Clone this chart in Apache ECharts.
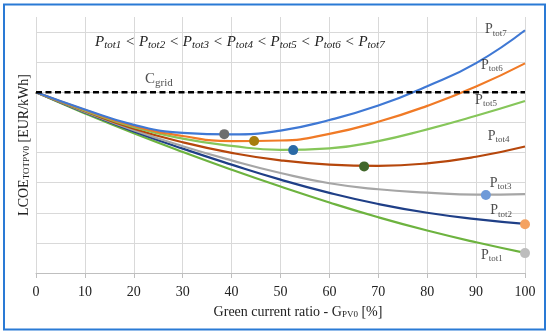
<!DOCTYPE html>
<html><head><meta charset="utf-8">
<script src="https://cdn.jsdelivr.net/npm/echarts@6/dist/echarts.min.js"></script>
<style>html,body{margin:0;padding:0;background:#fff}#c{width:550px;height:334px}</style>
</head><body><div id="c"></div>
<script>
// Green current ratio G_PV0 [%]
const xValues = [0, 10, 20, 30, 40, 50, 60, 70, 80, 90, 100];
// LCOE curves (relative units, gridline spacing = 1)
const ptot1 = [6, 5.30, 4.64, 4.02, 3.43, 2.87, 2.34, 1.85, 1.41, 1.02, 0.67];
const ptot2 = [6, 5.33, 4.70, 4.13, 3.60, 3.10, 2.66, 2.29, 2.00, 1.79, 1.63];
const ptot3 = [6, 5.35, 4.74, 4.21, 3.74, 3.32, 2.98, 2.78, 2.67, 2.60, 2.62];
const ptot4 = [6, 5.37, 4.79, 4.34, 3.99, 3.74, 3.60, 3.56, 3.64, 3.86, 4.20];
const ptot5 = [6, 5.39, 4.84, 4.46, 4.22, 4.09, 4.14, 4.38, 4.77, 5.22, 5.71];
const ptot6 = [6, 5.41, 4.88, 4.55, 4.38, 4.40, 4.62, 5.02, 5.55, 6.19, 6.96];
const ptot7 = [6, 5.43, 4.92, 4.65, 4.60, 4.73, 5.08, 5.56, 6.20, 6.97, 8.06];
const seriesData = [ptot1, ptot2, ptot3, ptot4, ptot5, ptot6, ptot7];
const seriesLabels = ['tot1', 'tot2', 'tot3', 'tot4', 'tot5', 'tot6', 'tot7'];
const lineColors = ['#6db33f', '#1f3f87', '#a6a6a6', '#b6470c', '#86c65a', '#f07a26', '#3f78d4'];
// marked points (minimum / end points)
const markX = [100, 100, 92, 67.1, 52.6, 44.6, 38.5];
const markY = [0.66, 1.62, 2.59, 3.54, 4.08, 4.38, 4.61];
const markColors = ['#bdbdbd', '#f4a261', '#6f9ad8', '#41672a', '#2a6aa6', '#a77d0c', '#6e6e6e'];
// curve label anchors
const labelX = [91.0, 92.9, 92.8, 92.4, 89.8, 91.0, 91.8];
const labelY = [0.6, 2.07, 2.97, 4.53, 5.73, 6.9, 8.08];
// grid cost level
const cgridValue = 6;
const cgridLabelPos = [22.3, 6.43];

const serif = '"Liberation Serif", "DejaVu Serif", serif';
const txt = '#222';

const chart = echarts.init(document.getElementById('c'), null, {renderer: 'canvas'});
const series = [];
seriesData.forEach((d, i) => {
  series.push({
    type: 'line', name: 'P' + seriesLabels[i], smooth: true, symbol: 'none',
    data: xValues.map((x, j) => [x, d[j]]),
    lineStyle: {color: lineColors[i], width: 2.2}, z: 2 + i
  });
});
series.push({
  type: 'line', name: 'Cgrid', symbol: 'none',
  data: [[xValues[0], cgridValue], [xValues[xValues.length - 1], cgridValue]],
  lineStyle: {color: '#000', width: 2.5, type: [6, 3.5]}, z: 20
});
series.push({
  type: 'scatter', symbol: 'circle', symbolSize: 10, z: 25,
  data: markX.map((x, i) => [x, markY[i]]),
  itemStyle: {color: p => markColors[p.dataIndex], opacity: 1}
});
series.push({
  type: 'scatter', symbolSize: 0, z: 30, silent: true,
  data: labelX.map((x, i) => ({value: [x, labelY[i]], name: seriesLabels[i]})),
  label: {
    show: true, position: 'right', distance: 0,
    formatter: p => '{p|P}{s|' + p.name + '}',
    rich: {
      p: {fontFamily: serif, fontSize: 14, color: txt, lineHeight: 16},
      s: {fontFamily: serif, fontSize: 9, color: txt, lineHeight: 10, padding: [7, 0, 0, 0]}
    }
  }
});
series.push({
  type: 'scatter', symbolSize: 0, z: 30, silent: true,
  data: [{value: cgridLabelPos, name: 'grid'}],
  label: {
    show: true, position: 'right', distance: 0,
    formatter: '{p|C}{s|grid}',
    rich: {
      p: {fontFamily: serif, fontSize: 15, color: txt, lineHeight: 17},
      s: {fontFamily: serif, fontSize: 11, color: txt, lineHeight: 12, padding: [7, 0, 0, 0]}
    }
  }
});

const formulaParts = [];
for (let i = 0; i < 7; i++) {
  formulaParts.push('{p|P}{s|' + seriesLabels[i] + '}');
}
const formula = formulaParts.join('{p| < }');

chart.setOption({
  animation: false,
  backgroundColor: '#fff',
  grid: {left: 36, right: 25, top: 17, bottom: 61, containLabel: false},
  xAxis: {
    type: 'value', min: 0, max: 100, interval: 10,
    axisLine: {show: true, lineStyle: {color: '#bfbfbf', width: 1}},
    axisTick: {show: true, length: 5, lineStyle: {color: '#bfbfbf'}},
    axisLabel: {fontFamily: serif, fontSize: 14, color: txt, margin: 12},
    splitLine: {show: true, lineStyle: {color: '#d9d9d9', width: 1}}
  },
  yAxis: {
    type: 'value', min: 0, max: 8.5, interval: 1,
    axisLine: {show: false}, axisTick: {show: false}, axisLabel: {show: false},
    splitLine: {show: true, showMaxLine: false, lineStyle: {color: '#d9d9d9', width: 1}}
  },
  series: series,
  graphic: [
    {type: 'rect', shape: {x: 4, y: 4.5, width: 541, height: 325}, style: {fill: 'none', stroke: '#2a7ad5', lineWidth: 2}, z: 100},
    {type: 'text', x: 95, y: 42, z: 100, style: {
      text: formula, fill: txt, verticalAlign: 'middle', align: 'left',
      rich: {
        p: {fontFamily: serif, fontSize: 15, fontStyle: 'italic', fill: txt, lineHeight: 17},
        s: {fontFamily: serif, fontSize: 11, fontStyle: 'italic', fill: txt, lineHeight: 11, padding: [7, 0, 0, 0]}
      }}},
    {type: 'text', x: 298, y: 312, z: 100, style: {
      text: '{a|Green current ratio - G}{s|PV0}{a| [%]}', fill: txt, align: 'center', verticalAlign: 'middle',
      rich: {
        a: {fontFamily: serif, fontSize: 14, fill: txt, lineHeight: 16},
        s: {fontFamily: serif, fontSize: 9, fill: txt, lineHeight: 10, padding: [6, 0, 0, 0]}
      }}},
    {type: 'text', x: 24, y: 145, rotation: Math.PI / 2, z: 100, style: {
      text: '{a|LCOE}{s|TOTPV0}{a| [EUR/kWh]}', fill: txt, align: 'center', verticalAlign: 'middle',
      rich: {
        a: {fontFamily: serif, fontSize: 14, fill: txt, lineHeight: 16},
        s: {fontFamily: serif, fontSize: 9, fill: txt, lineHeight: 10, padding: [6, 0, 0, 0]}
      }}}
  ]
});
</script></body></html>
